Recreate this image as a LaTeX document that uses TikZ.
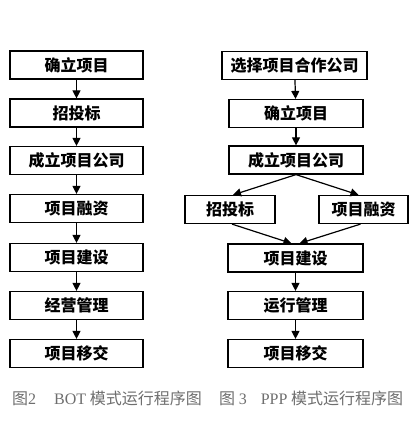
\documentclass[tikz,border=0pt]{standalone}
\usepackage{fontspec}
\usepackage{xcolor}
\usetikzlibrary{arrows.meta,positioning,calc}
\newfontfamily\cjk{Noto Sans CJK SC}
\newfontfamily\capserif{Liberation Serif}
\definecolor{capgray}{RGB}{110,110,110}

\begin{document}
\begin{tikzpicture}[x=1pt, y=-1pt,
  stepbox/.style={draw, line width=1.2pt, minimum height=28pt, inner sep=0pt, font=\cjk\bfseries\fontsize{16}{18}\selectfont},
  flow/.style={-{Triangle[length=8pt,width=8pt]}, line width=1.2pt},
  caption/.style={anchor=west, inner sep=0pt, text=capgray, font=\cjk\fontsize{16}{18}\selectfont}
]
\useasboundingbox (0,0) rectangle (415,446);

% BOT
\node[stepbox, minimum width=133pt] (bqueli) at (76.5,65) {确立项目};
\node[stepbox, minimum width=133pt] (bzhaotou) at (76.5,113) {招投标};
\node[stepbox, minimum width=133pt] (bgongsi) at (76.5,160.5) {成立项目公司};
\node[stepbox, minimum width=133pt] (brongzi) at (76.5,208.5) {项目融资};
\node[stepbox, minimum width=133pt] (bjianshe) at (76.5,257.5) {项目建设};
\node[stepbox, minimum width=133pt] (bjingying) at (76.5,305.5) {经营管理};
\node[stepbox, minimum width=133pt] (byijiao) at (76.5,353.5) {项目移交};

\draw[flow] (bqueli) -- (bzhaotou);
\draw[flow] (bzhaotou) -- (bgongsi);
\draw[flow] (bgongsi) -- (brongzi);
\draw[flow] (brongzi) -- (bjianshe);
\draw[flow] (bjianshe) -- (bjingying);
\draw[flow] (bjingying) -- (byijiao);

% PPP
\node[stepbox, minimum width=145pt] (pxuanze) at (294.5,65.5) {选择项目合作公司};
\node[stepbox, minimum width=134pt] (pqueli) at (296,113.5) {确立项目};
\node[stepbox, minimum width=134pt] (pgongsi) at (296,160) {成立项目公司};
\node[stepbox, minimum width=90pt] (pzhaotou) at (230,209.5) {招投标};
\node[stepbox, minimum width=89pt] (prongzi) at (363.5,209.5) {项目融资};
\node[stepbox, minimum width=135pt] (pjianshe) at (295.5,258) {项目建设};
\node[stepbox, minimum width=135pt] (pyunxing) at (295.5,305.5) {运行管理};
\node[stepbox, minimum width=135pt] (pyijiao) at (295.5,353.5) {项目移交};

\draw[flow] (pxuanze) -- (pqueli);
\draw[flow] (pqueli) -- (pgongsi);
\draw[flow] (pgongsi.south) -- ([xshift=3pt]pzhaotou.north);
\draw[flow] (pgongsi.south) -- ([xshift=-5pt]prongzi.north);
\draw[flow] ([xshift=2pt]pzhaotou.south) -- ([xshift=-4pt]pjianshe.north);
\draw[flow] ([xshift=-3pt]prongzi.south) -- ([xshift=4pt]pjianshe.north);
\draw[flow] (pjianshe) -- (pyunxing);
\draw[flow] (pyunxing) -- (pyijiao);

% captions
\node[caption] (capbot) at (12,398) {图{\capserif 2}\hspace{18pt}{\capserif BOT} 模式运行程序图};
\node[caption] (capppp) at (219,398) {图 {\capserif 3}\hspace{14pt}{\capserif PPP} 模式运行程序图};

\end{tikzpicture}
\end{document}
